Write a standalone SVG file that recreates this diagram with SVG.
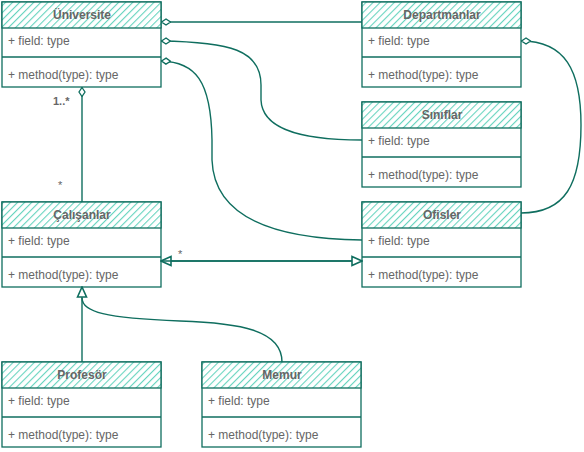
<svg xmlns="http://www.w3.org/2000/svg" width="584" height="452" viewBox="0 0 584 452">
<defs>
<pattern id="hatch" patternUnits="userSpaceOnUse" width="5" height="5" patternTransform="rotate(45)">
<rect width="5" height="5" fill="#ffffff"/>
<line x1="0" y1="0" x2="0" y2="5" stroke="#67d4bf" stroke-width="2.2"/>
</pattern>
<marker id="diamond" viewBox="0 0 10 8" refX="0" refY="4" markerWidth="10" markerHeight="8" markerUnits="userSpaceOnUse" orient="auto">
<path d="M0.5,4 L5,1 L9.5,4 L5,7 Z" fill="#ffffff" stroke="#0f6e5f" stroke-width="1.3"/>
</marker>
<marker id="tri" viewBox="0 0 12 12" refX="11" refY="6" markerWidth="12" markerHeight="12" markerUnits="userSpaceOnUse" orient="auto">
<path d="M1,1.5 L11,6 L1,10.5 Z" fill="#ffffff" stroke="#0f6e5f" stroke-width="1.6"/>
</marker>
</defs>
<style>
.box{fill:#ffffff;stroke:#0f6e5f;stroke-width:1.3}
.hdr{fill:url(#hatch);stroke:#0f6e5f;stroke-width:1.3}
.sep{stroke:#0f6e5f;stroke-width:1.3}
.title{font-family:"Liberation Sans",Arial,sans-serif;font-size:12px;font-weight:bold;fill:#666666;text-anchor:middle}
.txt{font-family:"Liberation Sans",Arial,sans-serif;font-size:12px;fill:#666666}
.lbl{font-family:"Liberation Sans",Arial,sans-serif;font-size:11px;fill:#666666}
.edge{fill:none;stroke:#0f6e5f;stroke-width:1.4}
</style>

<g id="universite">
<rect class="box" x="2" y="2" width="159" height="85"/>
<rect class="hdr" x="2" y="2" width="159" height="26"/>
<line class="sep" x1="2" y1="57" x2="161" y2="57"/>
<text class="title" x="82" y="19">Üniversite</text>
<text class="txt" x="8" y="45">+ field: type</text>
<text class="txt" x="8" y="79">+ method(type): type</text>
</g>

<g id="departmanlar">
<rect class="box" x="362" y="2" width="159" height="85"/>
<rect class="hdr" x="362" y="2" width="159" height="26"/>
<line class="sep" x1="362" y1="57" x2="521" y2="57"/>
<text class="title" x="442" y="19">Departmanlar</text>
<text class="txt" x="368" y="45">+ field: type</text>
<text class="txt" x="368" y="79">+ method(type): type</text>
</g>

<g id="siniflar">
<rect class="box" x="362" y="102" width="159" height="85"/>
<rect class="hdr" x="362" y="102" width="159" height="26"/>
<line class="sep" x1="362" y1="157" x2="521" y2="157"/>
<text class="title" x="442" y="119">Sınıflar</text>
<text class="txt" x="368" y="145">+ field: type</text>
<text class="txt" x="368" y="179">+ method(type): type</text>
</g>

<g id="ofisler">
<rect class="box" x="362" y="202" width="159" height="85"/>
<rect class="hdr" x="362" y="202" width="159" height="26"/>
<line class="sep" x1="362" y1="257" x2="521" y2="257"/>
<text class="title" x="442" y="219">Ofisler</text>
<text class="txt" x="368" y="245">+ field: type</text>
<text class="txt" x="368" y="279">+ method(type): type</text>
</g>

<g id="calisanlar">
<rect class="box" x="2" y="202" width="159" height="85"/>
<rect class="hdr" x="2" y="202" width="159" height="26"/>
<line class="sep" x1="2" y1="257" x2="161" y2="257"/>
<text class="title" x="82" y="219">Çalışanlar</text>
<text class="txt" x="8" y="245">+ field: type</text>
<text class="txt" x="8" y="279">+ method(type): type</text>
</g>

<g id="profesor">
<rect class="box" x="2" y="362" width="159" height="85"/>
<rect class="hdr" x="2" y="362" width="159" height="26"/>
<line class="sep" x1="2" y1="417" x2="161" y2="417"/>
<text class="title" x="82" y="379">Profesör</text>
<text class="txt" x="8" y="405">+ field: type</text>
<text class="txt" x="8" y="439">+ method(type): type</text>
</g>

<g id="memur">
<rect class="box" x="202" y="362" width="159" height="85"/>
<rect class="hdr" x="202" y="362" width="159" height="26"/>
<line class="sep" x1="202" y1="417" x2="361" y2="417"/>
<text class="title" x="282" y="379">Memur</text>
<text class="txt" x="208" y="405">+ field: type</text>
<text class="txt" x="208" y="439">+ method(type): type</text>
</g>

<g id="connectors">
<path class="edge" d="M161,22 L362,22" marker-start="url(#diamond)"/>
<path class="edge" d="M161,41 C230,42 261,50 261,85 L261,100 C262,125 290,140 362,140" marker-start="url(#diamond)"/>
<path class="edge" d="M161,61 C195,62 211,80 212,140 L212,160 C214,215 270,239 362,240" marker-start="url(#diamond)"/>
<path class="edge" d="M521,41 C565,41 581,70 581,125 C581,185 565,213 521,213" marker-start="url(#diamond)"/>
<path class="edge" d="M82,87 L82,202" marker-start="url(#diamond)"/>
<path class="edge" d="M362,261 L161,261" marker-end="url(#tri)"/>
<path class="edge" d="M161,261 L362,261" marker-end="url(#tri)"/>
<path class="edge" d="M82,362 L82,287" marker-end="url(#tri)"/>
<path class="edge" d="M282,362 C282,330 240,323 180,321 C105,318 82,312 82,298"/>
<text class="lbl" x="53" y="105" style="font-weight:bold">1..*</text>
<text class="lbl" x="58" y="189">*</text>
<text class="lbl" x="178" y="258">*</text>
</g>
</svg>
